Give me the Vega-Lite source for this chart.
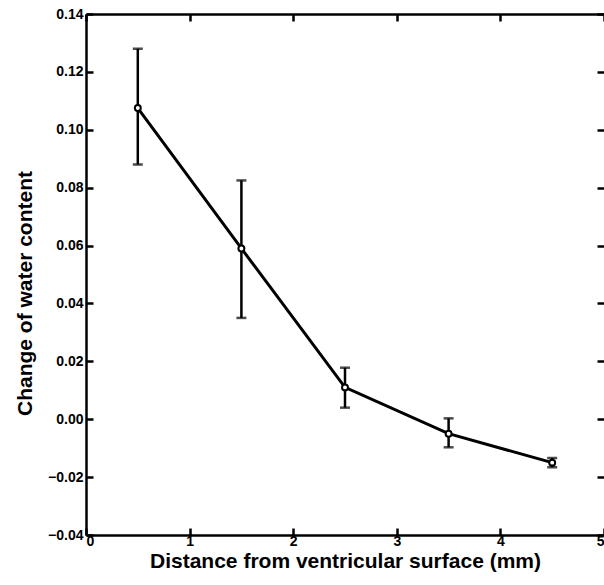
{
  "$schema": "https://vega.github.io/schema/vega-lite/v6.json",
  "width": 518,
  "height": 521,
  "autosize": {"type": "none"},
  "padding": {"left": 86, "top": 14, "right": 0, "bottom": 50},
  "background": "white",
  "config": {
    "view": {"stroke": null},
    "font": "Liberation Sans",
    "axis": {
      "domainColor": "black", "domainWidth": 2.5,
      "tickColor": "black", "tickWidth": 2.5, "tickSize": -7,
      "labelFont": "Liberation Sans", "labelFontWeight": "bold", "labelFontSize": 14, "labelColor": "black",
      "titleFont": "Liberation Sans", "titleFontWeight": "bold", "titleFontSize": 21, "titleColor": "black",
      "grid": false
    }
  },
  "data": {"values": [
    {"x": 0.5, "y": 0.1075, "lo": 0.088, "hi": 0.128},
    {"x": 1.5, "y": 0.059, "lo": 0.035, "hi": 0.0825},
    {"x": 2.5, "y": 0.011, "lo": 0.004, "hi": 0.0178},
    {"x": 3.5, "y": -0.005, "lo": -0.0097, "hi": 0.0003},
    {"x": 4.5, "y": -0.015, "lo": -0.0166, "hi": -0.0134}
  ]},
  "resolve": {"axis": {"x": "independent", "y": "independent"}},
  "layer": [
    {
      "mark": {"type": "line", "color": "black", "strokeWidth": 3},
      "encoding": {
        "x": {"field": "x", "type": "quantitative", "scale": {"domain": [0, 5], "nice": false, "zero": false},
          "axis": {"title": "Distance from ventricular surface (mm)", "values": [0,1,2,3,4,5], "labelPadding": 6, "titlePadding": 2}},
        "y": {"field": "y", "type": "quantitative", "scale": {"domain": [-0.04, 0.14], "nice": false, "zero": false},
          "axis": {"title": "Change of water content", "values": [-0.04,-0.02,0,0.02,0.04,0.06,0.08,0.1,0.12,0.14], "format": ".2f", "labelPadding": 10, "titlePadding": 12, "titleY": 279}}
      }
    },
    {
      "mark": {"type": "errorbar", "ticks": {"size": 10, "thickness": 2.5, "color": "black"}, "rule": {"strokeWidth": 2.5, "color": "black"}},
      "encoding": {
        "x": {"field": "x", "type": "quantitative", "scale": {"domain": [0, 5], "nice": false, "zero": false},
          "axis": {"orient": "top", "title": null, "labels": false, "values": [0,1,2,3,4,5]}},
        "y": {"field": "lo", "type": "quantitative", "scale": {"domain": [-0.04, 0.14], "nice": false, "zero": false},
          "axis": {"orient": "right", "title": null, "labels": false, "domain": false, "values": [-0.04,-0.02,0,0.02,0.04,0.06,0.08,0.1,0.12,0.14]}},
        "y2": {"field": "hi"}
      }
    },
    {
      "mark": {"type": "point", "shape": "circle", "filled": true, "fill": "white", "stroke": "black", "strokeWidth": 2, "size": 35, "opacity": 1},
      "encoding": {
        "x": {"field": "x", "type": "quantitative", "scale": {"domain": [0, 5], "nice": false, "zero": false}, "axis": null},
        "y": {"field": "y", "type": "quantitative", "scale": {"domain": [-0.04, 0.14], "nice": false, "zero": false}, "axis": null}
      }
    }
  ]
}
